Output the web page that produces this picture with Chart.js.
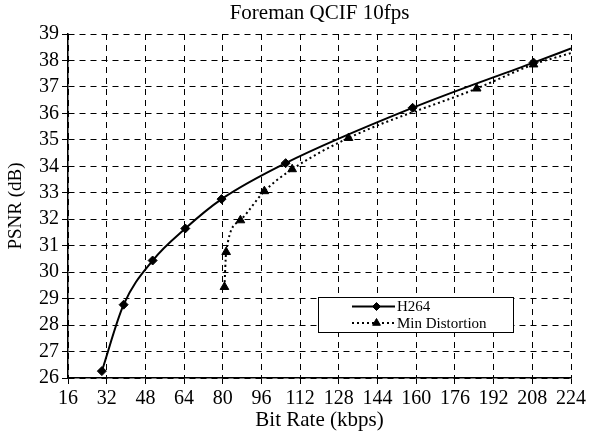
<!DOCTYPE html>
<html>
<head>
<meta charset="utf-8">
<script src="https://cdn.jsdelivr.net/npm/chart.js@4.4.0/dist/chart.umd.min.js"></script>
<style>
  html, body { margin: 0; padding: 0; background: #fff; }
  #wrap { width: 589px; height: 434px; }
</style>
</head>
<body>
<div id="wrap"><canvas id="psnrChart"></canvas></div>
<script>
// valores
var h264Rate = [30, 39, 51, 64.5, 79.5, 106, 158.5, 208.5, 224];
var h264Psnr = [26.26, 28.77, 30.44, 31.65, 32.76, 34.12, 36.21, 37.92, 38.45];
var minDistRate = [80.7, 81.4, 87.3, 97.2, 108.7, 132, 185, 208.5, 224];
var minDistPsnr = [29.44, 30.76, 31.96, 33.06, 33.89, 35.07, 36.94, 37.85, 38.28];
var xTicks = [16, 32, 48, 64, 80, 96, 112, 128, 144, 160, 176, 192, 208, 224];
var yTicks = [26, 27, 28, 29, 30, 31, 32, 33, 34, 35, 36, 37, 38, 39];

var serif = '"Liberation Serif", "Times New Roman", serif';

function toPoints(xs, ys) {
  return xs.map(function(x, i) { return { x: x, y: ys[i] }; });
}

// último ponto sem marcador (a linha continua até a borda)
function radii(n, r) {
  return Array.from({ length: n }, function(_, i) { return i === n - 1 ? 0 : r; });
}

// título centralizado sobre a área do gráfico + legenda dentro do gráfico
var extras = {
  id: 'extras',
  afterDraw: function(chart) {
    var ctx = chart.ctx;
    var area = chart.chartArea;
    ctx.save();
    ctx.fillStyle = '#000';
    ctx.font = '21px ' + serif;
    ctx.textAlign = 'center';
    ctx.textBaseline = 'middle';
    ctx.fillText('Foreman QCIF 10fps', (area.left + area.right) / 2, 13);

    // caixa da legenda
    var bx = 318, by = 297, bw = 195, bh = 35;
    ctx.fillStyle = '#fff';
    ctx.fillRect(bx, by, bw, bh);
    ctx.strokeStyle = '#000';
    ctx.lineWidth = 1;
    ctx.strokeRect(bx + 0.5, by + 0.5, bw, bh);

    var rows = [by + 9.5, by + 26];
    chart.data.datasets.forEach(function(ds, i) {
      var y = rows[i];
      ctx.save();
      ctx.strokeStyle = '#000';
      ctx.lineWidth = 2;
      ctx.setLineDash(ds.borderDash || []);
      ctx.beginPath();
      ctx.moveTo(352, y);
      ctx.lineTo(395, y);
      ctx.stroke();
      ctx.restore();
      ctx.fillStyle = '#000';
      Chart.helpers.drawPoint(ctx, {
        pointStyle: ds.pointStyle,
        radius: ds.legendRadius,
        rotation: 0,
        borderWidth: 1
      }, 376.5, y);
      ctx.fillStyle = '#000';
      ctx.font = '15px ' + serif;
      ctx.textAlign = 'left';
      ctx.textBaseline = 'middle';
      ctx.fillText(ds.label, 397, y + 1);
    });
    ctx.restore();
  }
};

var ctx = document.getElementById('psnrChart').getContext('2d');

var chart = new Chart(ctx, {
  type: 'line',
  data: {
    datasets: [
      {
        label: 'H264',
        data: toPoints(h264Rate, h264Psnr),
        borderColor: '#000',
        backgroundColor: '#000',
        borderWidth: 2,
        pointStyle: 'rectRot',
        pointRadius: radii(h264Rate.length, 4.5),
        legendRadius: 4,
        pointBorderWidth: 1,
        cubicInterpolationMode: 'monotone',
        fill: false
      },
      {
        label: 'Min Distortion',
        data: toPoints(minDistRate, minDistPsnr),
        borderColor: '#000',
        backgroundColor: '#000',
        borderWidth: 2,
        borderDash: [2, 3],
        pointStyle: 'triangle',
        pointRadius: radii(minDistRate.length, 5),
        legendRadius: 4.5,
        pointBorderWidth: 1,
        cubicInterpolationMode: 'monotone',
        fill: false
      }
    ]
  },
  options: {
    responsive: true,
    maintainAspectRatio: false,
    animation: false,
    layout: { padding: { top: 34, right: 17, left: 0, bottom: 0 } },
    plugins: {
      legend: { display: false },
      title: { display: false },
      tooltip: { enabled: false }
    },
    scales: {
      x: {
        type: 'linear',
        min: 16,
        max: 224,
        afterFit: function(scale) { scale.height = 56; },
        afterBuildTicks: function(scale) {
          scale.ticks = xTicks.map(function(v) { return { value: v }; });
        },
        ticks: {
          color: '#000',
          font: { family: serif, size: 20 },
          padding: 3,
          maxRotation: 0,
          autoSkip: false
        },
        grid: {
          color: '#000',
          lineWidth: 1,
          tickColor: '#000',
          tickLength: 6,
          tickBorderDash: []
        },
        border: { display: true, color: '#000', width: 1.5, dash: [6, 5] },
        title: {
          display: true,
          text: 'Bit Rate (kbps)',
          color: '#000',
          font: { family: serif, size: 21 },
          padding: { top: 0, bottom: 1 }
        }
      },
      y: {
        min: 26,
        max: 39,
        afterFit: function(scale) { scale.width = 68; },
        afterBuildTicks: function(scale) {
          scale.ticks = yTicks.map(function(v) { return { value: v }; });
        },
        ticks: {
          color: '#000',
          font: { family: serif, size: 20 },
          padding: 3,
          autoSkip: false
        },
        grid: {
          color: '#000',
          lineWidth: 1,
          tickColor: '#000',
          tickLength: 6,
          tickBorderDash: []
        },
        border: { display: true, color: '#000', width: 1.5, dash: [6, 5] },
        title: {
          display: true,
          text: 'PSNR (dB)',
          color: '#000',
          font: { family: serif, size: 19 },
          padding: { top: 5, bottom: 0 }
        }
      }
    }
  },
  plugins: [extras]
});
</script>
</body>
</html>
